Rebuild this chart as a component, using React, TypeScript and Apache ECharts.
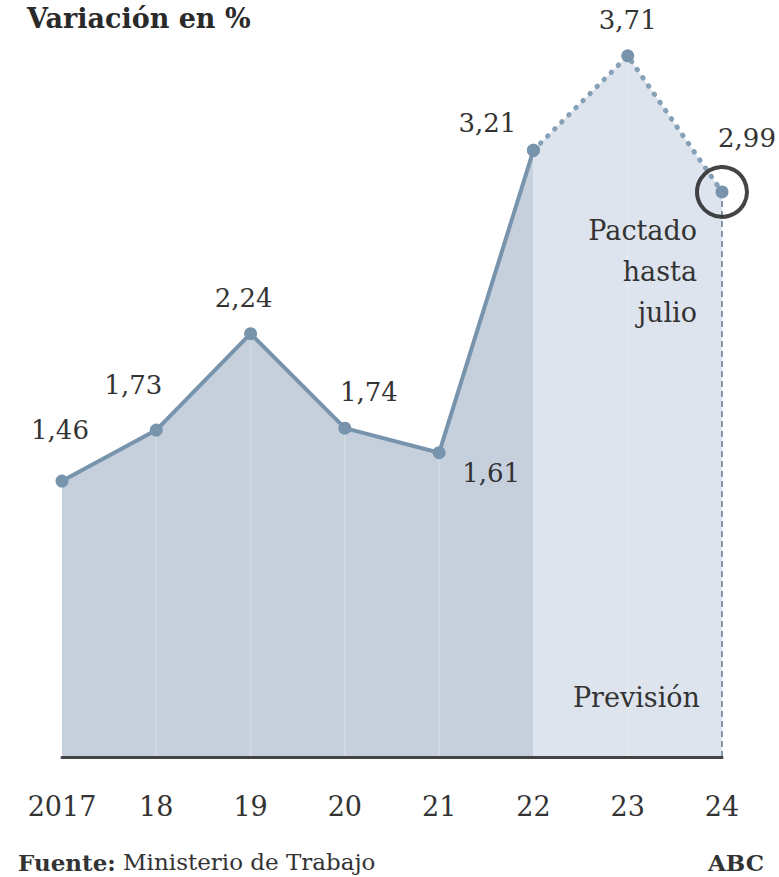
import React, { useEffect, useRef } from "react";
import * as echarts from "echarts";

const categories = ["2017", "18", "19", "20", "21", "22", "23", "24"];
const historicValues = [1.46, 1.73, 2.24, 1.74, 1.61, 3.21, null, null];
const forecastValues = [null, null, null, null, null, 3.21, 3.71, 2.99];
const valueLabels = ["1,46", "1,73", "2,24", "1,74", "1,61", "3,21", "3,71", "2,99"];

const title = "Variación en %";
const forecastNote = "Pactado\nhasta\njulio";
const forecastTag = "Previsión";
const sourceBold = "Fuente:";
const sourceText = " Ministerio de Trabajo";
const brand = "ABC";

// label offsets (style only), centre of label relative to point
const labelOffsets: number[][] = [
  [-2, -51],
  [-23, -45],
  [-7, -36],
  [24, -36],
  [52, 20],
  [-46, -27],
  [0, -36],
  [25, -54],
];

const FONT = "'DejaVu Serif', 'Liberation Serif', serif";
const TEXT = "#333333";
const LINE = "#7894ad";
const DARK = "#c5d0dc";
const LIGHT = "#dee4ed";

export default function App() {
  const ref = useRef<HTMLDivElement>(null);
  useEffect(() => {
    if (!ref.current) return;
    const chart = echarts.init(ref.current, null, { renderer: "svg" });

    const mkLabel = (i: number) => ({
      show: true,
      position: "inside",
      offset: labelOffsets[i],
      formatter: valueLabels[i],
      fontFamily: FONT,
      fontSize: 26,
      color: TEXT,
    });

    const histData = historicValues.map((v, i) =>
      v == null ? null : { value: v, label: mkLabel(i) }
    );
    const prevData = forecastValues.map((v, i) =>
      v == null
        ? null
        : historicValues[i] != null
        ? { value: v, label: { show: false } }
        : { value: v, label: mkLabel(i) }
    );
    const allValues = categories.map((_, i) =>
      historicValues[i] != null ? historicValues[i] : forecastValues[i]
    );
    const gridIdx = [1, 2, 3, 4, 6];
    const gridBars = allValues.map((v, i) => (gridIdx.includes(i) ? v : null));
    const last = categories.length - 1;

    chart.setOption({
      animation: false,
      grid: { left: 62, right: 57, top: 1, bottom: 120 },
      xAxis: {
        type: "category",
        data: categories,
        boundaryGap: false,
        axisLine: { show: true, lineStyle: { color: "#444", width: 3 } },
        axisTick: { show: false },
        axisLabel: {
          margin: 36,
          fontFamily: FONT,
          fontSize: 27,
          color: TEXT,
        },
        splitLine: { show: false },
        z: 5,
      },
      yAxis: {
        type: "value",
        min: 0,
        max: 4,
        show: false,
        splitLine: { show: false },
      },
      series: [
        {
          type: "line",
          data: historicValues,
          symbol: "none",
          lineStyle: { width: 0, opacity: 0 },
          areaStyle: { color: DARK, opacity: 1 },
          z: 1,
          silent: true,
        },
        {
          type: "line",
          data: forecastValues,
          symbol: "none",
          lineStyle: { width: 0, opacity: 0 },
          areaStyle: { color: LIGHT, opacity: 1 },
          z: 1,
          silent: true,
        },
        {
          type: "bar",
          data: gridBars,
          barWidth: 2,
          itemStyle: { color: "rgba(255,255,255,0.2)" },
          z: 2,
          silent: true,
        },
        {
          type: "line",
          data: prevData,
          symbol: "circle",
          symbolSize: 13,
          itemStyle: { color: LINE },
          lineStyle: { color: "#86a0b6", width: 5, type: [0.5, 9.5], cap: "round" },
          z: 3,
          markLine: {
            silent: true,
            symbol: "none",
            label: { show: false },
            lineStyle: { color: "#8596ab", width: 2, type: [6, 4] },
            data: [
              [
                { coord: [categories[last], 0] },
                { coord: [categories[last], forecastValues[last]] },
              ],
            ],
          },
        },
        {
          type: "line",
          data: histData,
          symbol: "circle",
          symbolSize: 13,
          itemStyle: { color: LINE },
          lineStyle: { color: LINE, width: 4 },
          z: 4,
        },
        {
          type: "scatter",
          data: [[categories[last], forecastValues[last]]],
          symbol: "circle",
          symbolSize: 50,
          itemStyle: { color: "rgba(0,0,0,0)", borderColor: "#161616", borderWidth: 4 },
          z: 5,
          silent: true,
        },
      ],
      graphic: [
        {
          type: "text",
          left: 27,
          top: 5,
          style: {
            text: title,
            fontFamily: FONT,
            fontSize: 27,
            fontWeight: "bold",
            fill: "#2a2a2a",
          },
        },
        {
          type: "text",
          x: 697,
          y: 210,
          style: {
            text: forecastNote,
            fontFamily: FONT,
            fontSize: 27,
            lineHeight: 41,
            align: "right",
            verticalAlign: "top",
            fill: TEXT,
          },
          z: 10,
        },
        {
          type: "text",
          x: 700,
          y: 697,
          style: {
            text: forecastTag,
            fontFamily: FONT,
            fontSize: 27,
            align: "right",
            verticalAlign: "middle",
            fill: TEXT,
          },
          z: 10,
        },
        {
          type: "text",
          x: 18,
          y: 862,
          style: {
            text: "{b|" + sourceBold + "}{r|" + sourceText + "}",
            verticalAlign: "middle",
            rich: {
              b: { fontFamily: FONT, fontSize: 23, fontWeight: "bold", fill: TEXT, color: TEXT },
              r: { fontFamily: FONT, fontSize: 23, fill: TEXT, color: TEXT },
            },
          },
        },
        {
          type: "text",
          x: 764,
          y: 862,
          style: {
            text: brand,
            fontFamily: FONT,
            fontSize: 23,
            fontWeight: "bold",
            align: "right",
            verticalAlign: "middle",
            fill: TEXT,
          },
        },
      ],
    });
    return () => chart.dispose();
  }, []);

  return (
    <div
      ref={ref}
      style={{ position: "absolute", left: 0, top: 0, width: 779, height: 877, background: "#fff" }}
    />
  );
}
